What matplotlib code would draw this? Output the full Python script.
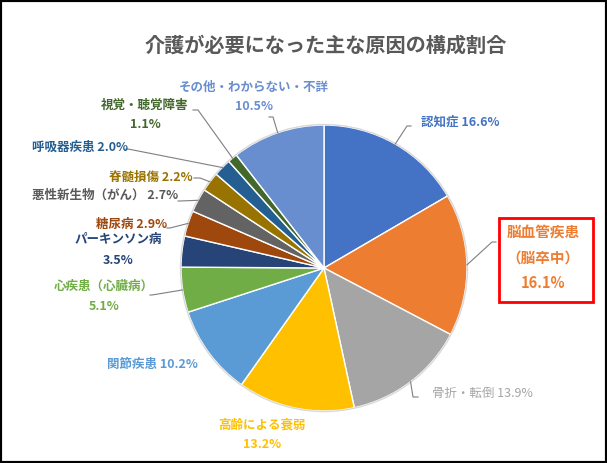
import numpy as np
import matplotlib
matplotlib.use('Agg')
import matplotlib.pyplot as plt
from matplotlib.patches import Rectangle

plt.rcParams['font.family'] = ['Noto Sans CJK JP', 'DejaVu Sans']

# data (clockwise from 12 o'clock)
labels = ['認知症 16.6%', '脳血管疾患\n（脳卒中）\n16.1%', '骨折・転倒 13.9%',
          '高齢による衰弱\n13.2%', '関節疾患 10.2%', '心疾患（心臓病）\n5.1%',
          'パーキンソン病\n3.5%', '糖尿病 2.9%', '悪性新生物（がん） 2.7%',
          '脊髄損傷 2.2%', '呼吸器疾患 2.0%', '視覚・聴覚障害\n1.1%',
          'その他・わからない・不詳\n10.5%']
values = [16.6, 16.1, 13.9, 13.2, 10.2, 5.1, 3.5, 2.9, 2.7, 2.2, 2.0, 1.1, 10.5]
colors = ['#4472C4', '#ED7D31', '#A5A5A5', '#FFC000', '#5B9BD5', '#70AD47',
          '#264478', '#9E480E', '#636363', '#997300', '#255E91', '#43682B', '#698ED0']
text_colors = ['#4472C4', '#ED7D31', '#A5A5A5', '#FFC000', '#5B9BD5', '#70AD47',
               '#264478', '#9E480E', '#595959', '#997300', '#255E91', '#43682B', '#698ED0']

# layout in pixels (y measured from top)
W, H = 607, 463
CX, CY, R = 324, 268, 143
label_pos = [(460, 122), (543, 258), (482, 393), (262, 435), (152, 364), (104, 296),
             (118, 250), (132, 224), (105, 195), (151, 177), (80, 147), (145, 115),
             (254, 97)]
label_size = [9, 10.5, 9, 9, 9, 9, 9, 9, 9, 9, 9, 9, 9]
label_weight = ['bold', 'bold', 'normal', 'bold', 'bold', 'bold', 'bold', 'bold',
                'bold', 'bold', 'bold', 'bold', 'bold']
# leader elbow point and horizontal stub end (None = no leader)
leaders = [((407, 126), 411), ((492, 242), 496), ((413, 397), 418), None, None,
           ((152, 295), 150), None, ((170, 228), 167), ((180, 201), 178),
           ((200, 178), 194), ((128, 149), 126), ((198, 110), 193), ((273, 117), 269)]

fig = plt.figure(figsize=(W / 100, H / 100), dpi=100)
ax = fig.add_axes([0, 0, 1, 1])

wedges, _ = ax.pie(values, colors=colors, startangle=90, counterclock=False,
                   center=(CX, H - CY), radius=R,
                   wedgeprops=dict(edgecolor='white', linewidth=1))
circ = plt.Circle((CX, H - CY), R + 0.5, fill=False, edgecolor='#D9D9D9', linewidth=1)
ax.add_patch(circ)

for w, lab, tc, (lx, ly), fs, fw, ld in zip(wedges, labels, text_colors, label_pos,
                                             label_size, label_weight, leaders):
    ax.text(lx, H - ly, lab, color=tc, fontsize=fs, fontweight=fw,
            ha='center', va='center', multialignment='center', linespacing=1.7)
    if ld is None:
        continue
    mid = np.deg2rad((w.theta1 + w.theta2) / 2)
    sx = CX + R * np.cos(mid)
    sy = H - CY + R * np.sin(mid)
    (ex, ey), stub = ld
    ax.plot([sx, ex, stub], [sy, H - ey, H - ey], color='#7F7F7F', linewidth=0.8)

# red highlight box around 脳血管疾患
ax.add_patch(Rectangle((499, H - 302), 94, 84, fill=False, edgecolor='#FF0000', linewidth=2))

ax.text(326, H - 45, '介護が必要になった主な原因の構成割合', fontsize=14.5,
        fontweight='bold', color='#595959', ha='center', va='center')

ax.set_xlim(0, W)
ax.set_ylim(0, H)
ax.set_aspect('equal')
ax.axis('off')

fig.patches.append(Rectangle((0, 0), 1, 1, transform=fig.transFigure, fill=False,
                             edgecolor='black', linewidth=3))

fig.savefig('out.png', dpi=100)
